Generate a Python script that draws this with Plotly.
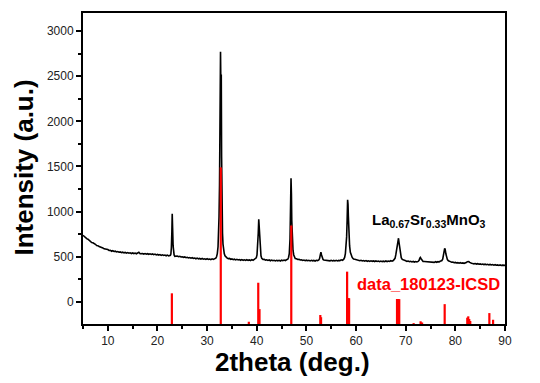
import numpy as np
import plotly.graph_objects as go

# ---------------- data ----------------
# measured pattern: baseline samples every 0.25 deg from 5 to 90 deg
X_START = 5.0
X_STEP = 0.25
base_intensity = [
    738, 724, 713, 701,  694, 679, 671, 658,  655, 641, 638, 625,  623, 612, 609, 599,  598, 588, 586, 577,
    580, 570, 572, 561,  567, 559, 562, 553,  558, 550, 554, 546,  551, 543, 548, 540,  546, 539, 544, 536,
    542, 535, 541, 533,  539, 549, 533, 537,  536, 530, 535, 528,  534, 527, 532, 525,  531, 523, 529, 520,
    526, 519, 524, 515,  521, 514, 519, 511,  518, 510, 514, 509,  512, 508, 505, 510,  508, 501, 505, 497,
    500, 494, 498, 490,  494, 487, 491, 484,  489, 482, 486, 478,  485, 477, 481, 474,  481, 473, 477, 470,
    478, 471, 475, 468,  477, 470, 476, 489,  500, 500, 500, 500,  500, 500, 500, 496,  488, 478, 482, 472,
    476, 468, 473, 465,  471, 464, 469, 461,  468, 461, 466, 459,  467, 460, 465, 458,  468, 461, 470, 475,
    480, 480, 480, 480,  480, 470, 472, 463,  466, 459, 464, 456,  463, 456, 461, 454,  461, 455, 460, 453,
    462, 456, 463, 458,  466, 474, 480, 480,  480, 480, 480, 480,  478, 470, 472, 464,  466, 459, 463, 456,
    462, 456, 461, 454,  460, 455, 459, 453,  461, 457, 466, 466,  466, 466, 466, 462,  466, 458, 462, 455,
    461, 454, 459, 453,  460, 454, 460, 456,  466, 461, 478, 478,  478, 478, 478, 478,  478, 478, 478, 472,
    468, 460, 464, 456,  461, 454, 458, 451,  457, 450, 455, 448,  455, 449, 454, 447,  454, 448, 452, 446,
    452, 446, 451, 445,  453, 447, 452, 448,  456, 451, 460, 460,  460, 460, 460, 460,  460, 460, 460, 461,
    456, 449, 452, 445,  449, 443, 448, 441,  447, 442, 450, 450,  450, 450, 450, 448,  447, 441, 446, 440,
    445, 439, 444, 438,  445, 439, 446, 442,  452, 458, 458, 458,  458, 458, 458, 458,  446, 439, 441, 434,
    437, 431, 435, 429,  434, 428, 432, 427,  430, 430, 430, 430,  430, 430, 426, 421,  425, 419, 423, 417,
    421, 415, 419, 413,  418, 412, 416, 410,  415, 409, 413, 407,  412, 406, 410, 404,  409, 403, 407, 401,
    404,
]

# finely sampled reflections of the measured pattern
peak_x = [
    [22.5, 22.6, 22.7, 22.8, 22.9, 22.97, 23.05, 23.15, 23.25, 23.35, 23.5],
    [31.75, 31.9, 32.05, 32.2, 32.3, 32.4, 32.5, 32.6, 32.7, 32.78, 32.85, 32.92, 33.0, 33.1, 33.2, 33.3, 33.45, 33.6, 33.75],
    [39.75, 39.9, 40.05, 40.2, 40.3, 40.4, 40.5, 40.6, 40.72, 40.85, 41.0],
    [46.25, 46.4, 46.55, 46.7, 46.8, 46.9, 46.98, 47.05, 47.15, 47.3, 47.45, 47.6, 47.75],
    [52.5, 52.65, 52.8, 52.92, 53.05, 53.2, 53.35, 53.5],
    [57.5, 57.7, 57.85, 58.0, 58.1, 58.2, 58.3, 58.38, 58.45, 58.55, 58.7, 58.85, 59.0, 59.2, 59.35, 59.5],
    [67.5, 67.7, 67.85, 68.0, 68.15, 68.25, 68.35, 68.45, 68.55, 68.65, 68.8, 68.95, 69.1, 69.3, 69.5],
    [72.5, 72.7, 72.85, 72.95, 73.1, 73.3, 73.5],
    [77.25, 77.45, 77.6, 77.75, 77.85, 77.95, 78.1, 78.25, 78.4, 78.6, 78.75],
    [82.0, 82.2, 82.4, 82.55, 82.7, 82.9, 83.1, 83.25],
]
peak_y = [
    [510, 515, 530, 600, 780, 975, 820, 620, 545, 520, 505],
    [484, 500, 535, 610, 720, 940, 1300, 2300, 2770, 2350, 2520, 1600, 960, 760, 640, 580, 535, 510, 496],
    [476, 488, 520, 620, 760, 915, 800, 640, 560, 510, 482],
    [472, 492, 535, 700, 950, 1370, 1200, 900, 690, 570, 520, 495, 480],
    [466, 480, 520, 552, 520, 485, 470, 464],
    [470, 492, 535, 620, 720, 900, 1130, 1080, 950, 760, 620, 550, 515, 495, 483, 474],
    [458, 466, 482, 520, 580, 640, 630, 680, 705, 660, 580, 520, 490, 470, 462],
    [448, 460, 484, 492, 478, 458, 448],
    [456, 474, 510, 560, 592, 580, 530, 490, 468, 455, 448],
    [430, 436, 445, 450, 446, 438, 430, 428],
]

# reference (ICSD) reflections: position, top of stick
icsd_pos = [22.9, 32.75, 38.4, 40.3, 40.55, 46.95, 52.8, 52.95, 58.2, 58.45, 58.6,
            68.25, 68.4, 68.55, 68.7, 71.6, 73.0, 73.3, 77.85, 82.4, 82.6, 82.8, 83.0, 86.85, 87.6]
icsd_top = [95, 1490, -220, 212, -80, 846, -145, -170, 335, 42, 40,
            32, 32, 30, 30, -235, -215, -228, -25, -175, -160, -190, -212, -124, -198]
ICSD_BASE = -245

sample_label = "<b>La<sub>0.67</sub>Sr<sub>0.33</sub>MnO<sub>3</sub></b>"
icsd_label = "<b>data_180123-ICSD</b>"
x_title = "<b>2theta (deg.)</b>"
y_title = "<b>Intensity (a.u.)</b>"

# ---------------- build traces ----------------
grid_x = X_START + X_STEP * np.arange(len(base_intensity))
grid_y = np.array(base_intensity, dtype=float)
keep = np.ones(len(grid_x), dtype=bool)
for px in peak_x:
    keep &= ~((grid_x >= min(px) - 1e-9) & (grid_x <= max(px) + 1e-9))
all_x = np.concatenate([grid_x[keep]] + [np.array(p) for p in peak_x])
all_y = np.concatenate([grid_y[keep]] + [np.array(p, dtype=float) for p in peak_y])
order = np.argsort(all_x)
all_x, all_y = all_x[order], all_y[order]

sx, sy = [], []
for p, t in zip(icsd_pos, icsd_top):
    sx += [p, p, None]
    sy += [ICSD_BASE, t, None]

FONT = "Arial, Liberation Sans, sans-serif"

fig = go.Figure()
fig.add_trace(go.Scatter(x=all_x, y=all_y, mode="lines",
                         line=dict(color="black", width=1.6), hoverinfo="skip"))
fig.add_trace(go.Scatter(x=sx, y=sy, mode="lines",
                         line=dict(color="#ff0000", width=2.2), hoverinfo="skip"))

fig.update_layout(
    width=540, height=383,
    margin=dict(l=83, r=35, t=13, b=59),
    paper_bgcolor="white", plot_bgcolor="white",
    showlegend=False,
    font=dict(family=FONT, color="#222"),
    xaxis=dict(range=[5, 90], tick0=10, dtick=10, ticks="outside", ticklen=5, tickwidth=1.5,
               tickcolor="black", showline=True, linewidth=2, linecolor="black", mirror=True,
               showgrid=False, zeroline=False, tickfont=dict(size=12, family=FONT, color="#222"),
               minor=dict(dtick=5, tick0=5, ticks="outside", ticklen=3, tickwidth=1.5, tickcolor="black")),
    yaxis=dict(range=[-245, 3200], tick0=0, dtick=500, ticks="outside", ticklen=5, tickwidth=1.5,
               tickcolor="black", showline=True, linewidth=2, linecolor="black", mirror=True,
               showgrid=False, zeroline=False, tickfont=dict(size=12, family=FONT, color="#222"),
               minor=dict(dtick=250, tick0=0, ticks="outside", ticklen=3, tickwidth=1.5, tickcolor="black")),
    annotations=[
        dict(text=sample_label, x=74.7, y=905, xref="x", yref="y", showarrow=False,
             xanchor="center", yanchor="middle", font=dict(size=15, color="black", family=FONT)),
        dict(text=icsd_label, x=74.6, y=198, xref="x", yref="y", showarrow=False,
             xanchor="center", yanchor="middle", font=dict(size=16.5, color="#ff0000", family=FONT)),
        dict(text=x_title, x=0.4955, y=-0.123, xref="paper", yref="paper", showarrow=False,
             xanchor="center", yanchor="middle", font=dict(size=26, color="black", family=FONT)),
        dict(text=y_title, x=-0.139, y=0.504, xref="paper", yref="paper", showarrow=False,
             textangle=-90, xanchor="center", yanchor="middle",
             font=dict(size=26, color="black", family=FONT)),
    ],
)

fig.write_html("out.html", config={"displayModeBar": False},
               post_script="document.body.style.margin='0px';")
